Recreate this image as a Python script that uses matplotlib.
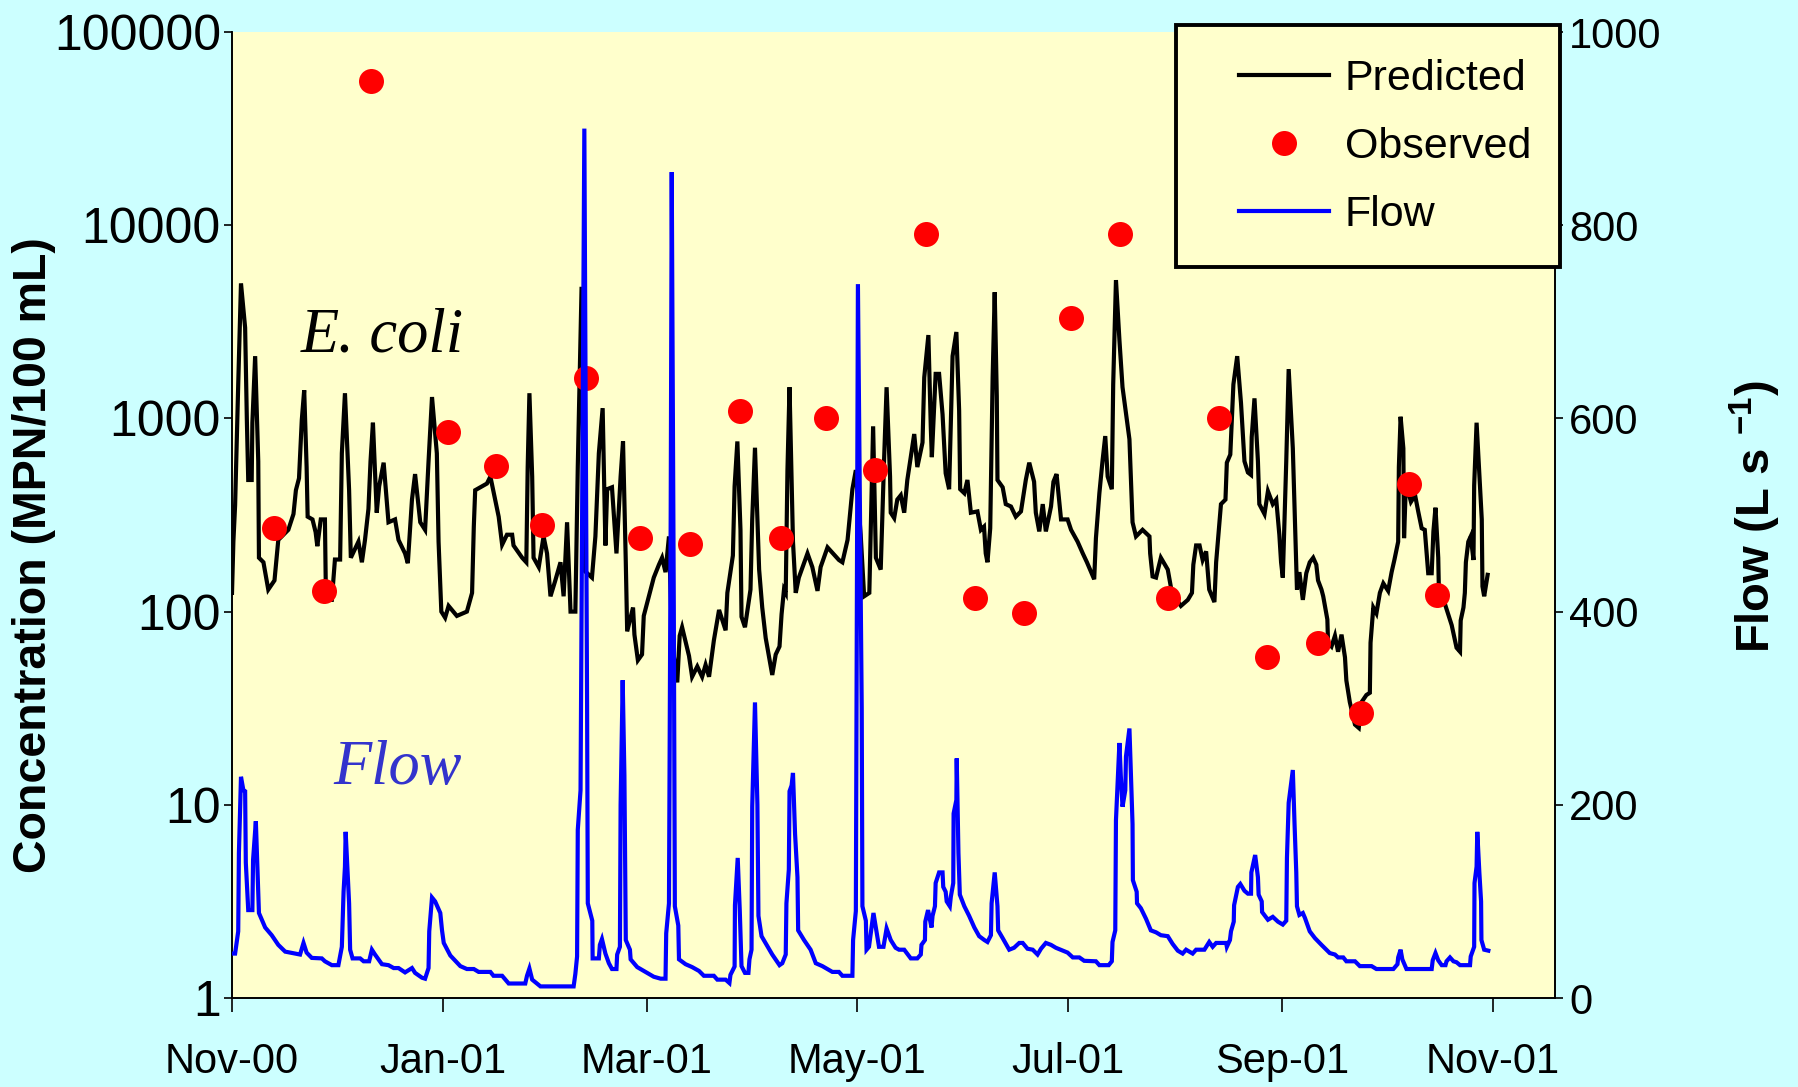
import numpy as np
import matplotlib
matplotlib.use('Agg')
import matplotlib.pyplot as plt
import matplotlib.dates as mdates
from matplotlib.lines import Line2D
from matplotlib.patches import Rectangle

plt.rcParams['font.family'] = ['Liberation Sans', 'DejaVu Sans']
plt.rcParams['mathtext.fontset'] = 'custom'
plt.rcParams['mathtext.rm'] = 'Liberation Sans'
plt.rcParams['mathtext.bf'] = 'Liberation Sans:bold'

start_date = '2000-11-01'

# Predicted E. coli (days since 1 Nov 2000, MPN/100 mL)
pred_day = [0.0, 0.4, 0.9, 1.8, 2.6, 3.8, 4.3, 4.7, 5.7, 5.9, 6.7, 7.6, 7.8, 9.1, 10.5, 12.3, 13.4, 16.3, 17.8, 18.5,
            19.4, 20.2, 20.9, 21.6, 21.9, 23.3, 24.2, 24.7, 25.7, 26.9, 27.2, 28.9, 29.8, 31.3, 31.8, 32.7, 33.9, 34.4,
            36.6, 37.6, 38.5, 39.5, 40.1, 40.8, 41.9, 42.6, 43.9, 45.3, 47.2, 48.2, 50.1, 50.9, 52.1, 53.0, 54.5, 55.9,
            56.9, 57.9, 59.3, 59.8, 60.6, 61.7, 62.7, 65.1, 68.0, 69.5, 70.0, 70.4, 71.9, 73.8, 74.8, 77.2, 78.2, 79.6,
            81.1, 81.5, 84.0, 85.2, 85.6, 86.1, 86.9, 87.3, 88.8, 90.2, 91.2, 92.2, 93.6, 95.1, 96.0, 97.0, 98.0, 99.4,
            100.1, 101.2, 102.0, 104.2, 105.2, 106.2, 107.3, 108.1, 108.6, 110.0, 111.3, 112.5, 113.2, 114.0, 114.4,
            116.1, 116.5, 117.5, 118.7, 119.2, 120.7, 122.1, 123.6, 124.5, 125.5, 126.5, 127.4, 128.9, 129.6, 130.3,
            132.3, 133.2, 134.7, 136.1, 137.1, 138.1, 139.5, 141.0, 142.9, 143.4, 144.3, 145.0, 145.5, 146.3, 147.2,
            147.5, 148.5, 150.1, 150.6, 151.4, 152.6, 153.5, 154.5, 156.4, 157.4, 158.5, 159.1, 159.8, 160.3, 160.8,
            161.4, 162.4, 163.2, 164.1, 166.6, 168.0, 169.5, 170.4, 172.4, 175.7, 176.7, 178.2, 179.6, 180.6, 182.0,
            183.0, 184.5, 185.6, 186.4, 187.8, 188.8, 189.5, 190.5, 190.7, 191.7, 192.6, 193.6, 194.6, 195.5, 197.5,
            198.4, 199.9, 200.4, 201.6, 202.3, 202.6, 203.7, 204.7, 205.7, 206.6, 207.6, 208.6, 209.7, 210.5, 210.8,
            212.0, 212.9, 213.9, 215.8, 216.8, 217.7, 218.2, 218.7, 219.5, 220.2, 220.8, 221.4, 221.6, 223.1, 224.0,
            225.5, 226.9, 228.4, 229.8, 230.8, 232.2, 232.7, 233.7, 234.7, 235.6, 237.1, 237.8, 238.7, 240.0, 241.9,
            242.9, 244.8, 246.3, 247.5, 249.6, 250.1, 251.1, 252.0, 252.8, 253.5, 254.7, 255.1, 255.9, 256.9, 257.8,
            259.8, 260.7, 261.7, 263.6, 265.6, 265.8, 266.5, 267.5, 268.9, 270.9, 272.1, 274.7, 276.7, 277.9, 278.3,
            279.1, 280.1, 281.0, 282.0, 282.9, 284.4, 284.9, 286.3, 287.6, 288.0, 289.0, 289.9, 291.0, 292.1, 293.1,
            294.1, 295.0, 295.2, 296.0, 297.0, 297.4, 298.9, 299.9, 301.3, 302.3, 303.2, 303.7, 304.2, 305.2, 305.9,
            307.1, 307.9, 308.3, 309.0, 310.0, 311.0, 312.0, 313.0, 313.9, 314.4, 315.4, 315.9, 317.1, 317.3, 318.3,
            319.3, 320.2, 321.2, 322.2, 322.6, 323.6, 325.1, 326.2, 327.0, 328.4, 329.4, 329.6, 330.4, 331.3, 332.3,
            333.3, 334.7, 335.7, 336.5, 337.6, 337.8, 338.3, 339.1, 339.3, 339.8, 340.5, 341.3, 342.5, 343.4, 344.4,
            345.3, 346.3, 347.3, 347.8, 348.4, 349.2, 349.4, 351.1, 353.1, 354.5, 355.5, 355.7, 356.5, 356.9, 357.2,
            357.9, 358.6, 359.4, 359.6, 360.3, 361.0, 361.8, 362.0, 362.5, 363.5]
pred_val = [125, 230, 355, 1500, 5000, 2950, 980, 480, 480, 950, 2100, 600, 190, 180, 130, 145, 235, 265, 320, 425,
            490, 980, 1400, 560, 310, 300, 258, 218, 300, 300, 115, 115, 186, 186, 660, 1350, 425, 190,
            230, 180, 235, 340, 600, 950, 325, 445, 590, 290, 300, 235, 200, 178, 380, 515, 290, 265,
            600, 1290, 660, 230, 100, 93, 107, 95, 100, 125, 275, 425, 440, 460, 500, 310, 222, 250,
            250, 220, 190, 180, 560, 1350, 500, 190, 170, 245, 200, 120, 145, 180, 120, 290, 100, 100,
            560, 4800, 163, 150, 245, 660, 1130, 220, 430, 440, 200, 500, 760, 180, 79,
            105, 76, 56, 60, 95, 120, 150, 175, 190, 160, 245, 69, 43, 75, 83,
            59, 46, 52, 46, 53, 46, 71, 102, 80, 125, 160, 195, 445, 760, 265,
            94, 83, 130, 300, 705, 165, 105, 73, 47, 60, 66, 97, 130, 125, 540,
            1450, 230, 125, 150, 200, 170, 128, 170, 215, 185, 180, 235, 430, 540, 250,
            120, 125, 910, 190, 165, 630, 1450, 500, 325, 305, 380, 400, 325, 480, 830,
            560, 750, 1630, 2700, 900, 630, 1700, 1700, 1050, 520, 430, 2100, 2800, 1100, 430,
            410, 480, 325, 330, 265, 275, 200, 180, 270, 1630, 4500, 1300, 480, 440, 360,
            350, 310, 330, 480, 590, 470, 325, 260, 360, 260, 350, 470, 515, 300, 300,
            265, 230, 200, 180, 147, 240, 410, 600, 810, 500, 430, 1500, 5200, 2550, 1450,
            780, 290, 245, 265, 245, 200, 152, 150, 190, 165, 125, 107, 115, 125, 175,
            220, 220, 185, 205, 130, 112, 180, 360, 380, 590, 650, 1500, 2100, 1200, 600,
            525, 510, 800, 1270, 600, 360, 320, 420, 360, 380, 250, 180, 150, 600, 1800,
            700, 230, 130, 160, 115, 158, 180, 190, 175, 145, 130, 120, 91, 69, 66,
            75, 62, 76, 58, 44, 34, 26, 25, 34, 37, 38, 69, 105, 98, 125,
            140, 128, 160, 185, 230, 560, 1020, 700, 240, 440, 420, 370, 400, 330, 270,
            265, 158, 158, 260, 345, 190, 125, 110, 85, 65, 62, 90, 105, 125, 180,
            230, 245, 185, 450, 950, 560, 300, 135, 120, 155]

# Observed E. coli
obs_day = [12.3, 26.6, 40.2, 62.5, 76.5, 89.8, 102.4, 118.0, 132.6, 147.0, 159.0, 172.0, 186.0,
           201.0, 215.0, 229.4, 243.0, 257.0, 271.0, 285.6, 299.5, 314.5, 326.8, 340.8, 348.7]
obs_val = [270, 128, 56000, 850, 570, 280, 1620, 240, 225, 1090, 240, 1000, 540,
           9000, 117, 98, 3300, 9000, 117, 1000, 58, 69, 30, 460, 122]

# Flow (L/s)
flow_day = [0.0, 0.9, 1.8, 2.0, 2.6, 3.3, 3.8, 4.0, 4.7, 5.9, 6.1, 6.9, 7.6, 7.8, 9.6, 11.5, 13.4, 15.4, 19.7, 20.7,
            21.6, 23.1, 26.0, 26.9, 28.9, 30.8, 31.8, 32.3, 32.7, 32.9, 33.9, 34.2, 34.9, 37.1, 38.1, 39.7, 40.5, 41.4,
            43.4, 45.3, 46.8, 48.2, 50.1, 52.1, 53.0, 55.0, 55.9, 56.9, 57.1, 57.9, 58.8, 60.3, 60.8, 61.3, 63.2, 66.1,
            68.0, 70.0, 71.4, 74.8, 75.7, 78.2, 80.1, 84.9, 85.4, 86.1, 86.9, 88.3, 89.3, 98.9, 99.4, 99.9, 100.1,
            100.9, 102.0, 102.8, 103.0, 104.3, 104.4, 106.2, 106.5, 107.1, 108.1, 109.1, 110.0, 111.3, 111.5, 112.3,
            112.5, 113.1, 113.6, 114.0, 115.2, 115.4, 117.3, 120.7, 122.1, 124.1, 125.5, 125.7, 126.5, 127.0, 127.3,
            127.9, 128.2, 129.2, 129.4, 131.3, 133.2, 135.2, 136.6, 139.5, 140.5, 142.9, 144.0, 144.3, 145.5, 145.6,
            146.4, 147.0, 147.5, 148.5, 149.5, 149.8, 150.4, 150.6, 151.4, 152.1, 152.4, 153.3, 156.4, 158.5, 159.3,
            160.3, 160.5, 161.2, 161.4, 162.0, 162.4, 163.0, 163.7, 163.9, 165.6, 167.5, 169.0, 170.9, 173.8, 175.7,
            176.7, 179.6, 179.8, 180.6, 181.2, 182.3, 182.5, 183.5, 183.7, 184.4, 185.7, 186.3, 187.3, 188.6, 189.5,
            190.7, 192.1, 193.1, 194.6, 196.5, 198.4, 199.4, 199.6, 200.6, 200.7, 201.5, 202.5, 202.8, 203.5, 203.7,
            204.7, 205.7, 205.9, 206.6, 206.9, 207.8, 208.1, 208.8, 208.9, 209.7, 209.8, 210.3, 210.7, 212.0, 213.4,
            214.9, 216.3, 217.8, 218.7, 219.7, 219.9, 220.8, 221.6, 221.8, 223.1, 225.0, 226.4, 227.9, 228.9, 230.3,
            231.8, 233.2, 234.2, 235.6, 237.1, 238.5, 240.5, 241.9, 243.4, 245.3, 246.7, 250.1, 251.1, 253.8, 254.7,
            254.9, 255.7, 255.9, 256.9, 257.3, 257.8, 258.6, 258.8, 259.8, 260.7, 260.8, 261.9, 262.0, 263.1, 264.6,
            266.0, 267.5, 268.9, 270.9, 272.3, 273.8, 275.2, 276.2, 278.1, 279.1, 281.5, 282.9, 283.9, 284.9, 287.8,
            288.0, 288.9, 289.2, 290.0, 290.1, 291.2, 291.9, 293.1, 294.1, 295.0, 295.1, 296.2, 297.0, 297.2, 298.1,
            298.2, 299.9, 301.3, 302.8, 304.2, 305.2, 305.4, 305.9, 307.1, 307.6, 308.1, 308.3, 309.0, 310.0, 310.6,
            312.0, 313.5, 315.4, 317.8, 319.3, 320.2, 321.7, 322.6, 325.1, 326.5, 329.9, 331.3, 336.2, 337.4, 337.6,
            338.3, 338.8, 340.0, 347.3, 347.6, 348.4, 349.2, 350.2, 351.3, 351.6, 352.6, 353.6, 354.5, 355.5, 358.4,
            358.6, 359.6, 359.7, 360.3, 360.5, 361.1, 361.6, 361.7, 362.5, 363.7]
flow_val = [46, 46, 69, 150, 229, 215, 214, 140, 91, 91, 143, 183, 110, 88, 73, 65, 55, 48, 45, 57,
            47, 41.5, 41, 38, 34, 34, 53, 110, 136, 172, 98, 50, 41, 41, 38, 38, 50, 45,
            35, 34, 31, 31, 26.5, 31, 26, 21, 20, 31, 69, 104, 100, 88, 70, 57, 44, 33,
            30, 30, 27, 27, 23, 23, 15, 15, 23, 30.5, 19, 15, 12, 12, 25, 43, 174,
            215, 900, 300, 98, 80, 41, 41, 55, 61, 46, 36, 30, 30, 45, 53,
            200, 329, 230, 60, 50, 40, 32, 25, 22, 20, 20, 67, 98, 500, 855,
            400, 95, 75, 40, 35, 32, 28, 23, 23, 19, 19, 15.5, 24, 32.6, 96,
            145, 90, 33, 26, 26, 40, 50, 198, 306, 200, 85, 64, 45, 34, 36,
            45, 98, 133, 214, 220, 233, 170, 125, 70, 60, 50, 36, 33, 27, 27,
            23, 23, 60, 90, 739, 300, 95, 80, 50, 53, 88, 75, 53, 53, 72,
            60, 52, 50, 50, 41, 41, 45, 55, 60, 79, 91, 73, 85, 95, 119,
            130, 130, 115, 110, 100, 95, 105, 119, 191, 205, 248, 150, 107, 95, 85,
            73, 64, 60, 58, 65, 98, 130, 95, 70, 62, 50, 52, 57, 57, 51,
            50, 45, 51, 57, 55, 52, 49, 47, 42, 42, 38.5, 38, 34, 34, 38,
            58, 70, 184, 264, 230, 198, 215, 250, 279, 180, 122, 110, 98, 93, 82,
            70, 68, 65, 64, 56, 49, 46, 50, 46, 50, 50, 58, 53, 57, 57,
            53, 60, 69, 79, 96, 115, 118, 111, 108, 108, 130, 148, 125, 107, 100,
            89, 81, 84, 79, 76, 80, 145, 202, 236, 180, 130, 95, 86, 88, 83,
            69, 62, 55, 46.5, 45, 42, 42, 38, 38, 33, 33, 30, 30, 35, 42,
            50, 40, 30, 30, 39, 46.5, 39, 34, 34, 38, 42, 38, 37, 34, 34,
            43, 53, 119, 136, 172, 130, 100, 60, 50, 49]

x_tick_dates = ['2000-11-01', '2001-01-01', '2001-03-01', '2001-05-01', '2001-07-01', '2001-09-01', '2001-11-01']
x_tick_labels = ['Nov-00', 'Jan-01', 'Mar-01', 'May-01', 'Jul-01', 'Sep-01', 'Nov-01']
conc_ticks = [1, 10, 100, 1000, 10000, 100000]
conc_tick_labels = ['1', '10', '100', '1000', '10000', '100000']
flow_ticks = [0, 200, 400, 600, 800, 1000]
flow_tick_labels = ['0', '200', '400', '600', '800', '1000']

t0 = mdates.date2num(np.datetime64(start_date))
def to_x(days):
    return t0 + np.asarray(days, dtype=float)

W, H = 1799, 1087
fig = plt.figure(figsize=(W / 100, H / 100), dpi=100)
fig.patch.set_facecolor('#CCFFFF')

L, R, T, B = 232, 1555, 32, 998
ax = fig.add_axes([L / W, 1 - B / H, (R - L) / W, (B - T) / H])
ax.set_facecolor('#FFFFCC')
ax.set_yscale('log')
ax.set_ylim(1, 100000)
ax.set_xlim(t0, t0 + 383)

LW = 3.0
ax.plot(to_x(pred_day), pred_val, color='black', lw=LW, solid_joinstyle='miter', zorder=3)
ax.plot(to_x(obs_day), obs_val, 'o', color='#FF0000', ms=18, mec='none', zorder=4)

ax2 = ax.twinx()
ax2.set_ylim(0, 1000)
ax2.plot(to_x(flow_day), flow_val, color='#0000FF', lw=LW, solid_joinstyle='miter', zorder=3)

ax.set_xticks(mdates.date2num(np.array(x_tick_dates, dtype='datetime64[D]')))
ax.set_xticklabels(x_tick_labels)
ax.set_yticks(conc_ticks)
ax.set_yticklabels(conc_tick_labels)
ax.yaxis.set_minor_locator(matplotlib.ticker.NullLocator())
ax2.set_yticks(flow_ticks)
ax2.set_yticklabels(flow_tick_labels)

ax.tick_params(axis='x', direction='out', length=10, width=1.2, pad=22, labelsize=30)
ax.tick_params(axis='y', direction='out', length=6, width=1.2, pad=2, labelsize=36)
ax2.tick_params(axis='y', direction='out', length=6, width=1.2, pad=4, labelsize=30)

for a in (ax, ax2):
    a.spines['top'].set_visible(False)
    for s in ('left', 'right', 'bottom'):
        a.spines[s].set_linewidth(1.2)
        a.spines[s].set_color('black')

fig.text(34 / W, 1 - 555 / H, 'Concentration (MPN/100 mL)', rotation=90, ha='center', va='center',
         fontsize=33.5, fontweight='bold')
fig.text(1755 / W, 1 - 517 / H, r'Flow (L s $^{\mathbf{-1}}$)', rotation=90, ha='center', va='center',
         fontsize=34, fontweight='bold')

ax.text(0.1134, 0.685, 'E. coli', transform=ax.transAxes, ha='center', va='center',
        fontsize=45, style='italic', family='Liberation Serif', color='black')
ax.text(0.1248, 0.237, 'Flow', transform=ax.transAxes, ha='center', va='center',
        fontsize=45, style='italic', family='Liberation Serif', color='#3333CC')

# legend box
lx0, ly0, lx1, ly1 = 1176, 25, 1560, 267
fig.patches.append(Rectangle((lx0 / W, 1 - ly1 / H), (lx1 - lx0) / W, (ly1 - ly0) / H,
                             transform=fig.transFigure, facecolor='#FFFFCC', edgecolor='black',
                             linewidth=2.8, zorder=5))
handles = [Line2D([], [], color='black', lw=LW),
           Line2D([], [], ls='none', marker='o', color='#FF0000', ms=18, mec='none'),
           Line2D([], [], color='#0000FF', lw=LW)]
leg = fig.legend(handles, ['Predicted', 'Observed', 'Flow'], loc='center',
                 bbox_to_anchor=(1385 / W, 1 - 147 / H), frameon=False, fontsize=31,
                 handlelength=2.1, handletextpad=0.35, labelspacing=0.66, borderpad=0)
leg.set_zorder(6)

fig.savefig('out.png', dpi=100, facecolor=fig.get_facecolor())
